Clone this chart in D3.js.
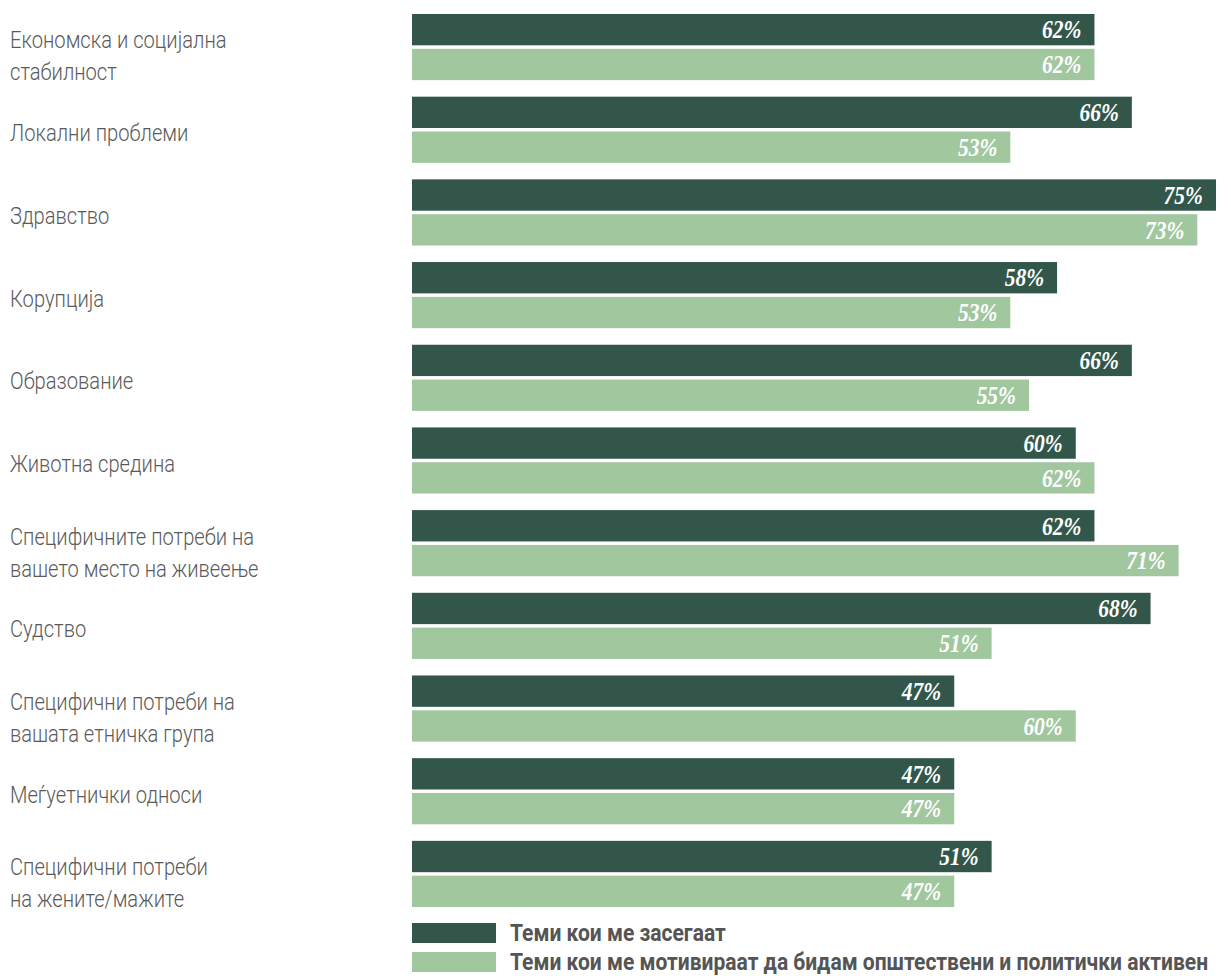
<!DOCTYPE html>
<html><head><meta charset="utf-8">
<script src="https://cdn.jsdelivr.net/npm/d3@7"></script>
<style>
html,body{margin:0;padding:0;background:#fff;}
svg{display:block;}
</style></head>
<body>
<script>
const categories = [
  "Економска и социјална\nстабилност",
  "Локални проблеми",
  "Здравство",
  "Корупција",
  "Образование",
  "Животна средина",
  "Специфичните потреби на\nвашето место на живеење",
  "Судство",
  "Специфични потреби на\nвашата етничка група",
  "Меѓуетнички односи",
  "Специфични потреби\nна жените/мажите"
];
const seriesNames = [
  "Теми кои ме засегаат",
  "Теми кои ме мотивираат да бидам општествени и политички активен"
];
const concernValues = [62, 66, 75, 58, 66, 60, 62, 68, 47, 47, 51];
const motivateValues = [62, 53, 73, 53, 55, 62, 71, 51, 60, 47, 47];
const seriesColors = ["#32574a", "#a1c79f"];

const W = 1231, H = 976;
const svg = d3.select("body").append("svg").attr("width", W).attr("height", H);

const data = categories.map((c, i) => ({cat: c, vals: [concernValues[i], motivateValues[i]]}));

const x = d3.scaleLinear().domain([-11, 75]).range([412, 1216]);
const y = d3.scaleBand().domain(categories).range([14, 907]).paddingInner(0.2);
const ySub = d3.scaleBand().domain([0, 1]).range([0, y.bandwidth()]).paddingInner(0.1);

const g = svg.append("g");
const rows = g.selectAll("g.row").data(data).join("g").attr("class", "row")
  .attr("transform", d => `translate(0,${y(d.cat)})`);

rows.selectAll("rect").data(d => d.vals.map((v, k) => ({v, k}))).join("rect")
  .attr("x", x.range()[0])
  .attr("y", d => ySub(d.k))
  .attr("width", d => x(d.v) - x.range()[0])
  .attr("height", ySub.bandwidth())
  .attr("fill", d => seriesColors[d.k]);

rows.selectAll("text.val").data(d => d.vals.map((v, k) => ({v, k}))).join("text")
  .attr("class", "val")
  .attr("transform", d => `translate(${x(d.v) - 13},${ySub(d.k) + ySub.bandwidth() / 2}) scale(0.86,1)`)
  .attr("dy", "0.35em")
  .attr("text-anchor", "end")
  .attr("fill", "#ffffff")
  .style("font-family", "'Liberation Serif', serif")
  .style("font-style", "italic")
  .style("font-weight", "bold")
  .style("font-size", "25px")
  .text(d => d.v + "%");

// category labels
rows.each(function(d) {
  const lines = d.cat.split("\n");
  const mid = y.bandwidth() / 2;
  lines.forEach((ln, i) => {
    const cy = lines.length === 1 ? mid + 3 : mid - 7 + i * 32;
    d3.select(this).append("text")
      .attr("transform", `translate(10,${cy}) scale(0.84,1)`)
      .attr("dy", "0.35em")
      .attr("fill", "#5a5a5a")
      .style("font-family", "Roboto, 'Liberation Sans', sans-serif")
      .style("font-weight", "300")
      .style("font-size", "24px")
      .text(ln);
  });
});

// legend
const legend = svg.append("g");
seriesNames.forEach((name, i) => {
  const ly = 923 + i * 29;
  legend.append("rect").attr("x", 412).attr("y", ly).attr("width", 84).attr("height", 20)
    .attr("fill", seriesColors[i]);
  legend.append("text")
    .attr("transform", `translate(510,${ly + 10}) scale(0.915,1)`)
    .attr("dy", "0.35em")
    .attr("fill", "#555555")
    .style("font-family", "Roboto, 'Liberation Sans', sans-serif")
    .style("font-weight", "bold")
    .style("font-size", "23px")
    .text(name);
});
</script>
</body></html>
